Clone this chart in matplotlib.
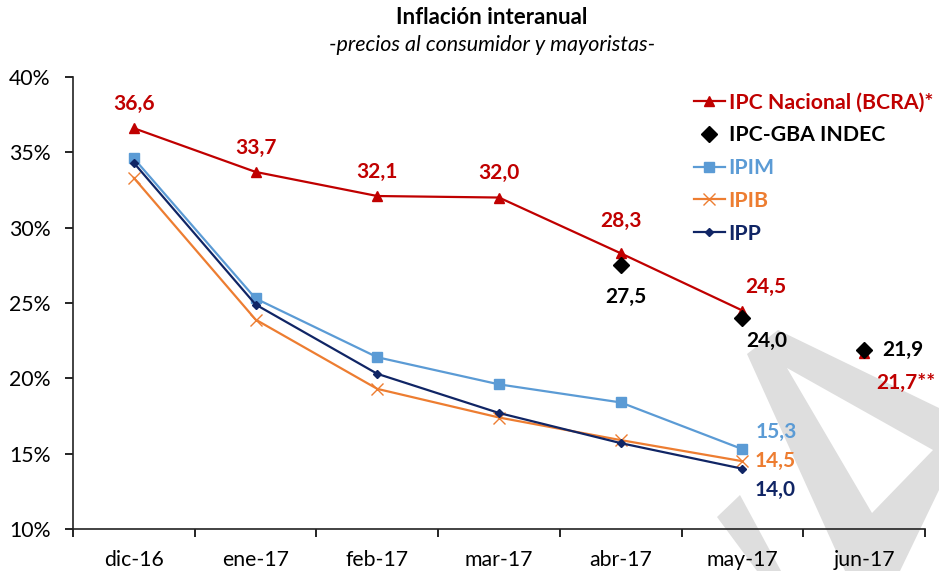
import numpy as np
import matplotlib
matplotlib.use("Agg")
import matplotlib.pyplot as plt
from matplotlib.patches import Polygon
from matplotlib.lines import Line2D

plt.rcParams['font.family'] = ['Lato', 'DejaVu Sans']

# data
months = ["dic-16", "ene-17", "feb-17", "mar-17", "abr-17", "may-17", "jun-17"]
ipc_nac = [36.6, 33.7, 32.1, 32.0, 28.3, 24.5]
ipc_nac_jun = 21.7
ipc_gba_idx = [4, 5, 6]
ipc_gba = [27.5, 24.0, 21.9]
ipim = [34.6, 25.3, 21.4, 19.6, 18.4, 15.3]
ipib = [33.3, 23.9, 19.3, 17.4, 15.9, 14.5]
ipp = [34.3, 24.9, 20.3, 17.7, 15.7, 14.0]
yticks = [10, 15, 20, 25, 30, 35, 40]

RED = "#C00000"
LBLUE = "#5B9BD5"
ORANGE = "#ED7D31"
NAVY = "#102565"

W, H = 939, 571
fig = plt.figure(figsize=(W / 100, H / 100), dpi=100)
fig.patch.set_facecolor("white")

def fpx(pts):
    return [(x / W, 1 - y / H) for x, y in pts]

# watermark in the background
outer = fpx([(747, 354), (778, 330), (939, 408), (939, 490), (900, 571), (845, 571)])
inner = fpx([(787, 368), (933, 450), (872, 513)])
stroke = fpx([(717, 517), (740, 495), (781, 571), (757, 571)])
for pts, col in [(outer, "#DEDEDE"), (inner, "white"), (stroke, "#DEDEDE")]:
    fig.patches.append(Polygon(pts, closed=True, transform=fig.transFigure,
                               facecolor=col, edgecolor="none", zorder=-5))

ax = fig.add_axes([73 / W, (H - 529) / H, 852 / W, 452 / H])
ax.patch.set_alpha(0)

x = np.arange(len(months))
x6 = x[:6]

ax.plot(x6, ipim, color=LBLUE, lw=1.6, marker="s", ms=6.5, zorder=3)
ax.plot(x6, ipib, color=ORANGE, lw=1.6, marker="x", ms=8, mew=1.0, zorder=3)
ax.plot(x6, ipp, color=NAVY, lw=1.6, marker="D", ms=4.5, zorder=4)
ax.plot(x6, ipc_nac, color=RED, lw=1.6, marker="^", ms=6.5, zorder=4)
ax.plot([x[6]], [ipc_nac_jun], color=RED, marker="^", ms=6.5, ls="none", zorder=4)
ax.plot(x[ipc_gba_idx], ipc_gba, color="black", marker="D", ms=8, ls="none", zorder=5)

LBL = 15
bold = dict(fontsize=LBL, fontweight="bold", ha="center", va="center",
            textcoords="offset pixels")

def fmt(v):
    return f"{v:.1f}".replace(".", ",")

# labels IPC Nacional
nac_off = [(0, 24), (0, 24), (0, 24), (0, 25), (0, 32), (23, 24)]
for i, v in enumerate(ipc_nac):
    ax.annotate(fmt(v), (x[i], v), xytext=nac_off[i], color=RED, **bold)
ax.annotate(fmt(ipc_nac_jun) + "**", (x[6], ipc_nac_jun), xytext=(42, -30), color=RED, **bold)

# labels IPC-GBA
gba_off = [(5, -32), (24, -23)]
for k in range(2):
    i = ipc_gba_idx[k]
    ax.annotate(fmt(ipc_gba[k]), (x[i], ipc_gba[k]), xytext=gba_off[k], color="black", **bold)
ax.annotate(fmt(ipc_gba[2]), (x[6], ipc_gba[2]), xytext=(18, 0),
            color="black", fontsize=LBL, fontweight="bold", ha="left", va="center",
            textcoords="offset pixels")

# end labels for wholesale series
ax.annotate(fmt(ipim[5]), (x[5], ipim[5]), xytext=(34, 17), color=LBLUE, **bold)
ax.annotate(fmt(ipib[5]), (x[5], ipib[5]), xytext=(33, 0), color=ORANGE, **bold)
ax.annotate(fmt(ipp[5]), (x[5], ipp[5]), xytext=(33, -21), color=NAVY, **bold)

# axes
ax.set_xlim(-0.5, 6.5)
ax.set_ylim(10, 40)
ax.set_yticks(yticks)
ax.set_yticklabels([f"{t}%" for t in yticks])
ax.set_xticks(x)
ax.set_xticklabels(months)
ax.set_xticks(np.arange(-0.5, 7, 1), minor=True)
ax.tick_params(axis="x", which="major", length=0, pad=15, labelsize=15.3)
ax.tick_params(axis="x", which="minor", length=6, width=1.2, direction="out")
ax.tick_params(axis="y", length=6, width=1.2, direction="out", pad=10, labelsize=15.3)
for s in ["top", "right"]:
    ax.spines[s].set_visible(False)
for s in ["left", "bottom"]:
    ax.spines[s].set_linewidth(1.2)
    ax.spines[s].set_color("#222222")

# legend
handles = [
    Line2D([], [], color=RED, lw=1.6, marker="^", ms=6.5),
    Line2D([], [], color="black", marker="D", ms=8, ls="none"),
    Line2D([], [], color=LBLUE, lw=1.6, marker="s", ms=6.5),
    Line2D([], [], color=ORANGE, lw=1.6, marker="x", ms=8, mew=1.0),
    Line2D([], [], color=NAVY, lw=1.6, marker="D", ms=4.5),
]
labels = ["IPC Nacional (BCRA)*", "IPC-GBA INDEC", "IPIM", "IPIB", "IPP"]
leg = fig.legend(handles, labels, loc="upper left", bbox_to_anchor=(685 / W, 1 - 84 / H),
                 frameon=False, prop=dict(size=15.3, weight="bold"),
                 labelcolor=[RED, "black", LBLUE, ORANGE, NAVY],
                 handlelength=1.5, handletextpad=0.15, labelspacing=0.6, borderaxespad=0)

fig.text(492 / W, 1 - 17 / H, "Inflación interanual", ha="center", va="center",
         fontsize=16, fontweight="bold")
fig.text(492 / W, 1 - 45 / H, "-precios al consumidor y mayoristas-", ha="center", va="center",
         fontsize=15.5, fontstyle="italic")

fig.savefig("out.png", dpi=100)
